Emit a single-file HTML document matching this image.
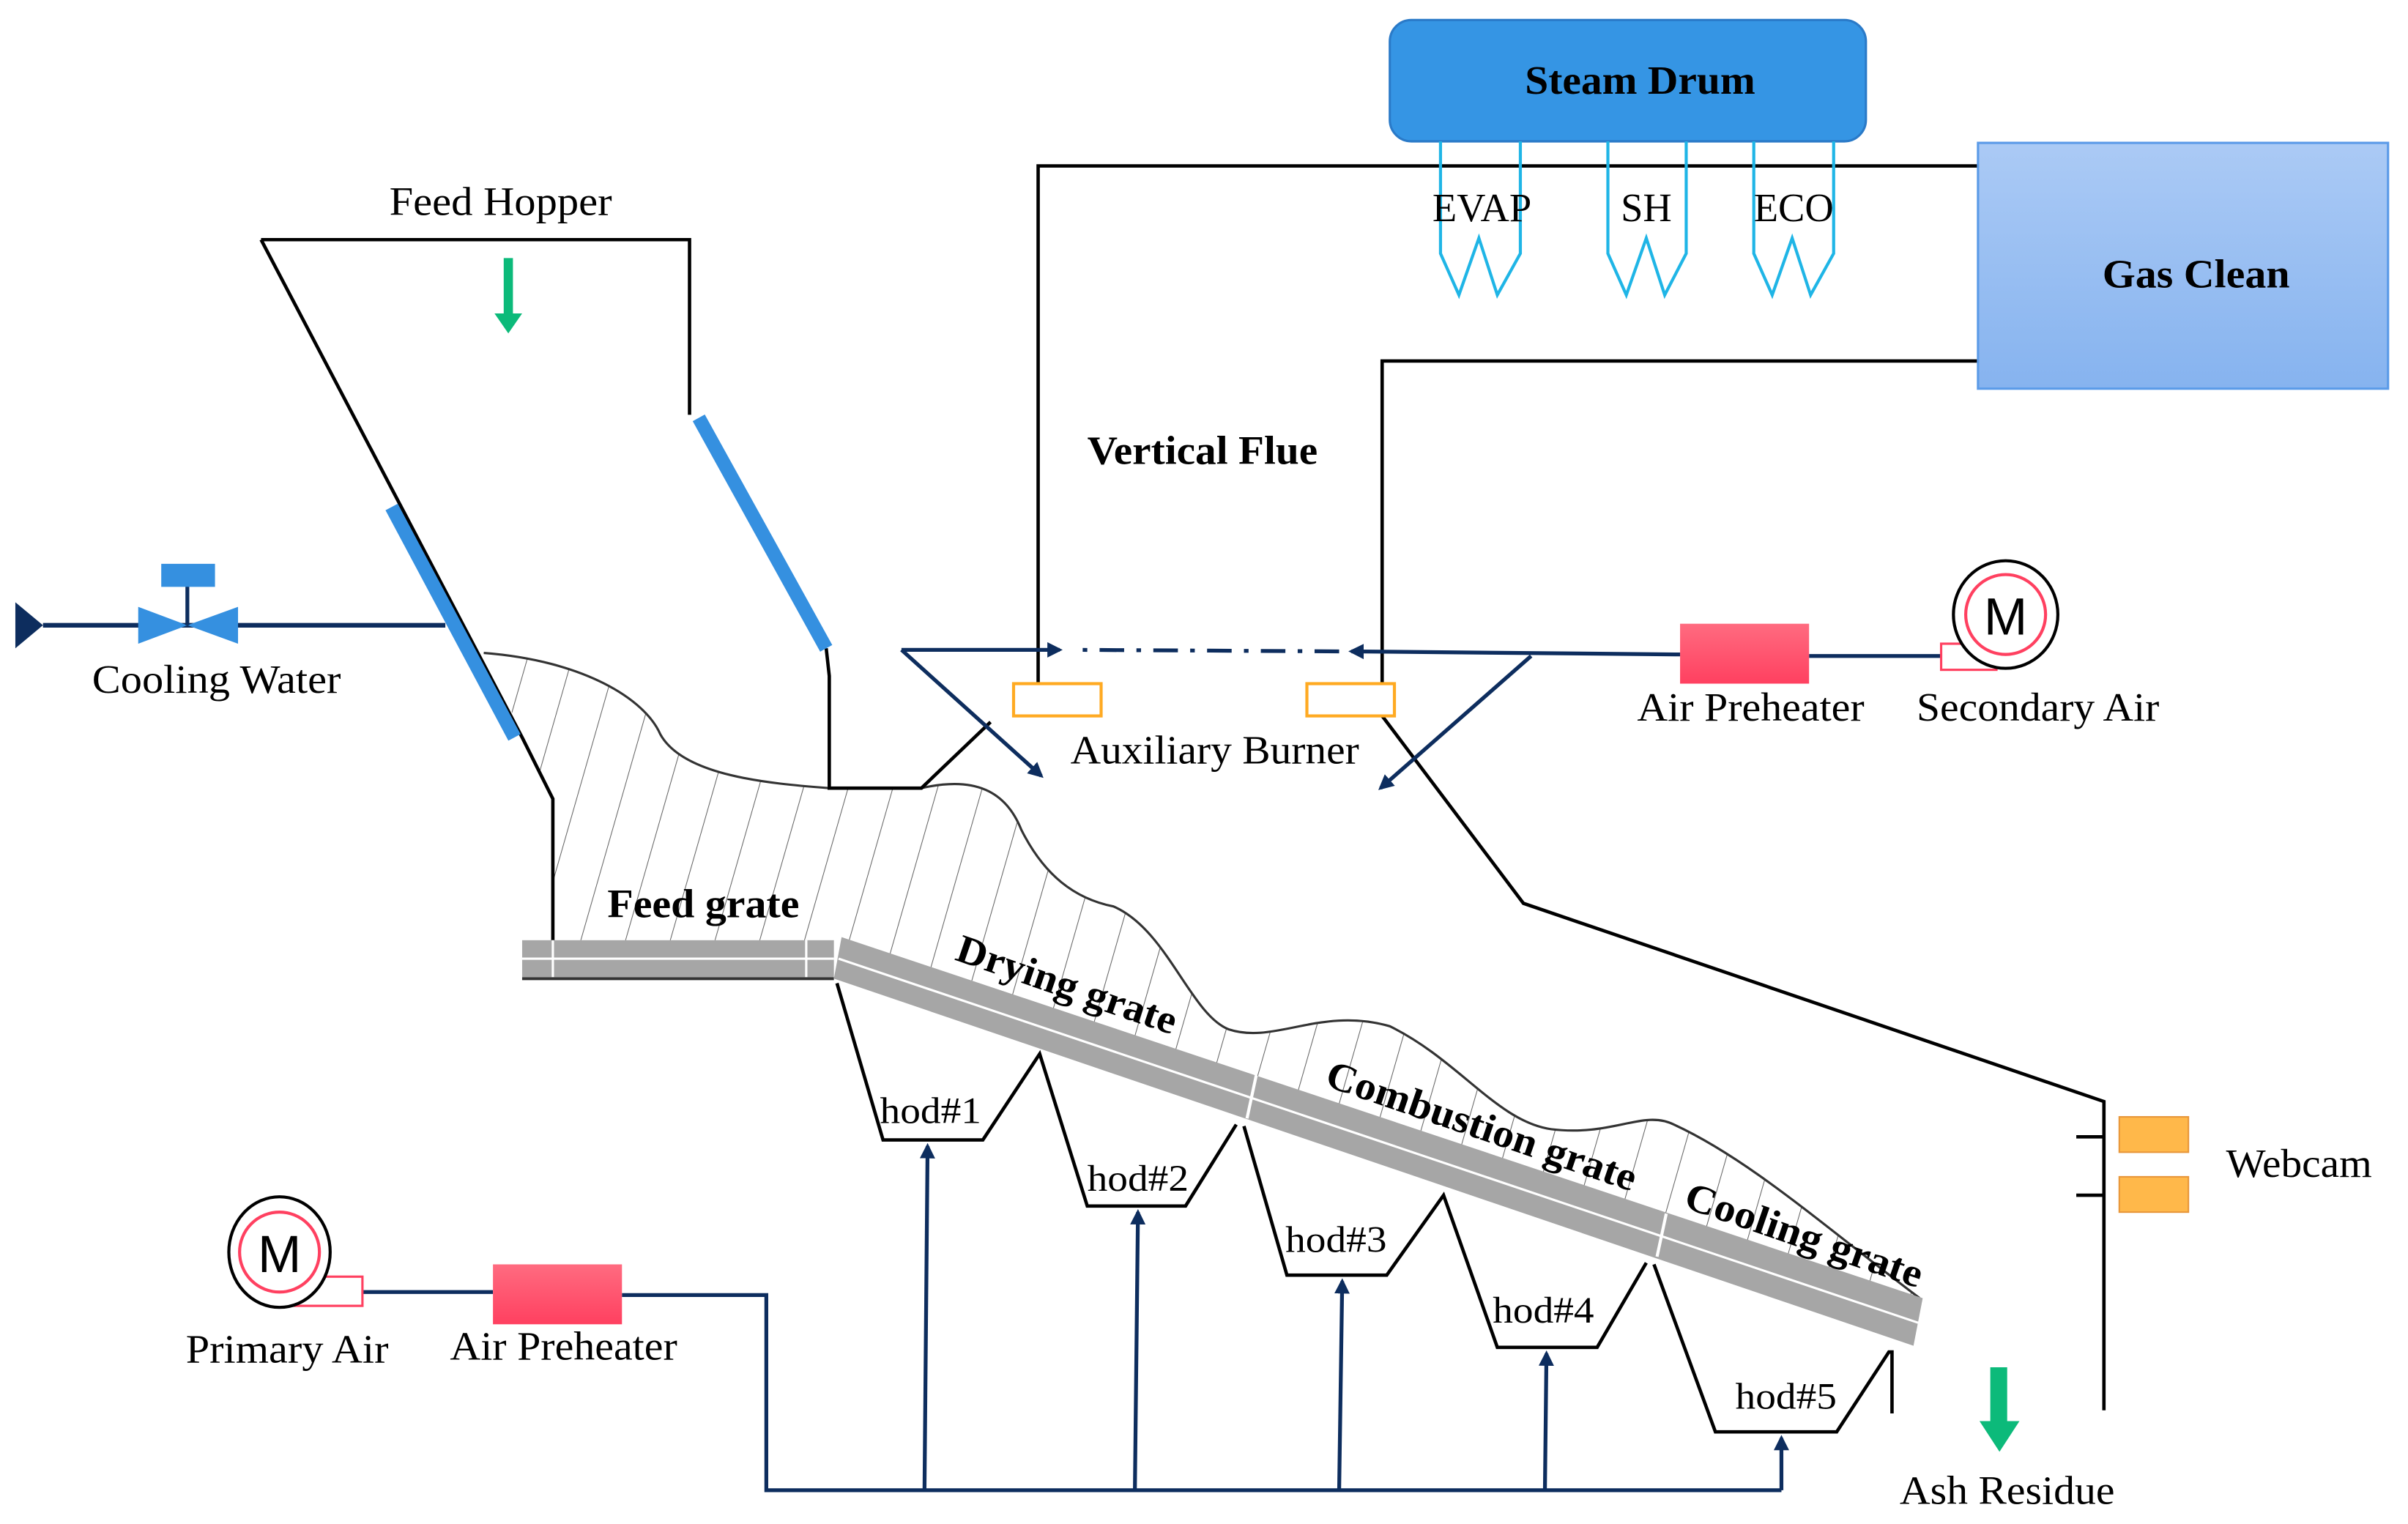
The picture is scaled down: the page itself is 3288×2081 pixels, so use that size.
<!DOCTYPE html>
<html><head><meta charset="utf-8"><style>
html,body{margin:0;padding:0;background:#fff;}
svg{display:block;}
text{font-family:"Liberation Serif",serif;fill:#000;}
.b{font-weight:bold;}
</style></head><body>
<svg width="3288" height="2081" viewBox="0 0 1568 992" preserveAspectRatio="none" xmlns="http://www.w3.org/2000/svg">
<defs>
<linearGradient id="gc" x1="0" y1="0" x2="0" y2="1"><stop offset="0" stop-color="#abcaf5"/><stop offset="1" stop-color="#86b3ef"/></linearGradient>
<linearGradient id="rd" x1="0" y1="0" x2="0" y2="1"><stop offset="0" stop-color="#ff6b80"/><stop offset="1" stop-color="#ff4060"/></linearGradient>
<pattern id="hatch" width="28" height="40" patternUnits="userSpaceOnUse" patternTransform="rotate(16)">
<line x1="0" y1="0" x2="0" y2="40" stroke="#666" stroke-width="1"/></pattern>
<marker id="ah" markerWidth="10" markerHeight="10" refX="8" refY="5" orient="auto" markerUnits="userSpaceOnUse"><path d="M0,0 L10,5 L0,10 Z" fill="#0d2d5e"/></marker>
</defs>

<path d="M315,425 C380,430 420,455 430,478 C445,505 500,510 540,513 L600,513 C635,505 655,515 665,540 C680,570 700,585 725,590 C760,605 775,660 800,670 C830,680 860,655 905,668 C950,690 975,730 1010,735 C1050,740 1070,722 1090,732 C1140,755 1190,800 1250,845 L543,612 L340,612 L360,612 L360,520 Z" fill="url(#hatch)" stroke="none"/>
<path d="M315,425 C380,430 420,455 430,478 C445,505 500,510 540,513 M600,513 C635,505 655,515 665,540 C680,570 700,585 725,590 C760,605 775,660 800,670 C830,680 860,655 905,668 C950,690 975,730 1010,735 C1050,740 1070,722 1090,732 C1140,755 1190,800 1250,845" fill="none" stroke="#333" stroke-width="1.5"/>

<g stroke="#000" stroke-width="2.2" fill="none">
<polyline points="170,156 449,156 449,270"/>
<polyline points="170,156 340,480 360,520 360,612"/>
<polyline points="538,422 540,440 540,513 600,513 645,470"/>
<polyline points="676,445 676,108 1288,108"/>
<polyline points="900,445 900,235 1288,235"/>
<polyline points="900,466 992,588 1370,717 1370,918"/>
<line x1="1352" y1="740" x2="1370" y2="740"/>
<line x1="1352" y1="778" x2="1370" y2="778"/>
<polyline points="545,640 575,742 640,742 677,686 708,785 772,785 805,732"/>
<polyline points="810,733 838,830 903,830 940,778 975,877 1040,877 1072,822"/>
<polyline points="1077,823 1117,932 1196,932 1230,880 1232,880 1232,920"/>
</g>
<line x1="340" y1="637" x2="543" y2="637" stroke="#333" stroke-width="2"/>

<line x1="255" y1="330" x2="335" y2="480" stroke="#3590e0" stroke-width="9"/>
<line x1="455" y1="272" x2="538" y2="422" stroke="#3590e0" stroke-width="9"/>
<path d="M328,168 h6 v36 h6 l-9,13 l-9,-13 h6 z" fill="#0cba7a"/>
<path d="M1296,890 h11 v35 h8 l-13,20 l-13,-20 h7 z" fill="#0cba7a"/>

<path d="M10,392 L28,407 L10,422 Z" fill="#0d2d5e"/>
<line x1="28" y1="407" x2="290" y2="407" stroke="#0d2d5e" stroke-width="3"/>
<path d="M90,395 L122,407 L90,419 Z M155,395 L122,407 L155,419 Z" fill="#3590e0"/>
<line x1="122" y1="381" x2="122" y2="407" stroke="#0d2d5e" stroke-width="2.5"/>
<rect x="105" y="367" width="35" height="15" fill="#3590e0"/>

<rect x="340" y="612" width="203" height="24" fill="#a6a6a6"/>
<line x1="340" y1="624" x2="543" y2="624" stroke="#fff" stroke-width="1.5"/>
<line x1="360" y1="612" x2="360" y2="636" stroke="#fff" stroke-width="1.5"/>
<line x1="525" y1="612" x2="525" y2="636" stroke="#fff" stroke-width="1.5"/>
<polygon points="548,610 1252,845 1246,876 543,637" fill="#a6a6a6"/>
<line x1="546" y1="624" x2="1249" y2="861" stroke="#fff" stroke-width="1.5"/>
<line x1="818" y1="700" x2="812" y2="728" stroke="#fff" stroke-width="2"/>
<line x1="1085" y1="790" x2="1079" y2="818" stroke="#fff" stroke-width="2"/>

<rect x="905" y="13" width="310" height="79" rx="14" fill="#3595e4" stroke="#2a7ac8" stroke-width="1.5"/>
<text x="1068" y="61" font-size="26" class="b" text-anchor="middle" textLength="150" lengthAdjust="spacingAndGlyphs">Steam Drum</text>
<g stroke="#1fb5e6" stroke-width="2" fill="none">
<polyline points="938,92 938,165 950,192 963,155 975,192 990,165 990,92"/>
<polyline points="1047,92 1047,165 1059,192 1072,155 1084,192 1098,165 1098,92"/>
<polyline points="1142,92 1142,165 1154,192 1167,155 1179,192 1194,165 1194,92"/>
</g>
<text x="965" y="144" font-size="26" text-anchor="middle">EVAP</text>
<text x="1072" y="144" font-size="26" text-anchor="middle">SH</text>
<text x="1168" y="144" font-size="26" text-anchor="middle">ECO</text>

<rect x="1288" y="93" width="267" height="160" fill="url(#gc)" stroke="#5b9be8" stroke-width="1.5"/>
<text x="1430" y="187" font-size="26" class="b" text-anchor="middle" textLength="122" lengthAdjust="spacingAndGlyphs">Gas Clean</text>

<g stroke="#0d2d5e" stroke-width="2.5" fill="none">
<line x1="1264" y1="427" x2="1178" y2="427"/>
<line x1="1094" y1="426" x2="880" y2="424" marker-end="url(#ah)"/>
<line x1="872" y1="424" x2="700" y2="423" stroke-dasharray="16,8,3,8"/>
<line x1="587" y1="423" x2="690" y2="423" marker-end="url(#ah)"/>
<line x1="587" y1="423" x2="678" y2="505" marker-end="url(#ah)"/>
<line x1="997" y1="427" x2="899" y2="513" marker-end="url(#ah)"/>
</g>
<rect x="1094" y="406" width="84" height="39" fill="url(#rd)"/>
<rect x="1264" y="419" width="36" height="17" fill="#fff" stroke="#ff4060" stroke-width="1.5"/>
<ellipse cx="1306" cy="400" rx="34" ry="35" fill="#fff" stroke="#000" stroke-width="2"/>
<circle cx="1306" cy="400" r="26" fill="#fff" stroke="#ff4060" stroke-width="2"/>
<text x="1306" y="413" font-size="34" text-anchor="middle" style="font-family:'Liberation Sans',sans-serif">M</text>
<text x="1140" y="469" font-size="26" text-anchor="middle" textLength="148" lengthAdjust="spacingAndGlyphs">Air Preheater</text>
<text x="1327" y="469" font-size="26" text-anchor="middle" textLength="158" lengthAdjust="spacingAndGlyphs">Secondary Air</text>

<rect x="660" y="445" width="57" height="21" fill="#fff" stroke="#ffaa22" stroke-width="2"/>
<rect x="851" y="445" width="57" height="21" fill="#fff" stroke="#ffaa22" stroke-width="2"/>
<text x="791" y="497" font-size="26" text-anchor="middle" textLength="188" lengthAdjust="spacingAndGlyphs">Auxiliary Burner</text>
<text x="783" y="302" font-size="26" class="b" text-anchor="middle" textLength="150" lengthAdjust="spacingAndGlyphs">Vertical Flue</text>

<rect x="1380" y="727" width="45" height="23" fill="#ffb84a" stroke="#e8963a"/>
<rect x="1380" y="766" width="45" height="23" fill="#ffb84a" stroke="#e8963a"/>
<text x="1497" y="766" font-size="26" text-anchor="middle" textLength="95" lengthAdjust="spacingAndGlyphs">Webcam</text>
<text x="1307" y="979" font-size="26" text-anchor="middle" textLength="140" lengthAdjust="spacingAndGlyphs">Ash Residue</text>

<g stroke="#0d2d5e" stroke-width="2.5" fill="none">
<line x1="236" y1="841" x2="321" y2="841"/>
<polyline points="405,843 499,843 499,970 1160,970"/>
<line x1="602" y1="970" x2="604" y2="746" marker-end="url(#ah)"/>
<line x1="739" y1="970" x2="741" y2="789" marker-end="url(#ah)"/>
<line x1="872" y1="970" x2="874" y2="834" marker-end="url(#ah)"/>
<line x1="1006" y1="970" x2="1007" y2="881" marker-end="url(#ah)"/>
<line x1="1160" y1="970" x2="1160" y2="936" marker-end="url(#ah)"/>
</g>
<rect x="321" y="823" width="84" height="39" fill="url(#rd)"/>
<rect x="192" y="831" width="44" height="19" fill="#fff" stroke="#ff4060" stroke-width="1.5"/>
<ellipse cx="182" cy="815" rx="33" ry="36" fill="#fff" stroke="#000" stroke-width="2"/>
<circle cx="182" cy="815" r="26" fill="#fff" stroke="#ff4060" stroke-width="2"/>
<text x="182" y="828" font-size="34" text-anchor="middle" style="font-family:'Liberation Sans',sans-serif">M</text>
<text x="187" y="887" font-size="26" text-anchor="middle" textLength="132" lengthAdjust="spacingAndGlyphs">Primary Air</text>
<text x="367" y="885" font-size="26" text-anchor="middle" textLength="148" lengthAdjust="spacingAndGlyphs">Air Preheater</text>

<text x="326" y="140" font-size="26" text-anchor="middle" textLength="145" lengthAdjust="spacingAndGlyphs">Feed Hopper</text>
<text x="141" y="451" font-size="26" text-anchor="middle" textLength="162" lengthAdjust="spacingAndGlyphs">Cooling Water</text>

<text x="458" y="597" font-size="26" class="b" text-anchor="middle" textLength="125" lengthAdjust="spacingAndGlyphs">Feed grate</text>
<text x="692" y="649" font-size="26" class="b" text-anchor="middle" transform="rotate(19 692 649)" textLength="150" lengthAdjust="spacingAndGlyphs">Drying grate</text>
<text x="962" y="741" font-size="26" class="b" text-anchor="middle" transform="rotate(19 962 741)" textLength="212" lengthAdjust="spacingAndGlyphs">Combustion grate</text>
<text x="1172" y="812" font-size="26" class="b" text-anchor="middle" transform="rotate(19 1172 812)" textLength="162" lengthAdjust="spacingAndGlyphs">Cooling grate</text>

<text x="606" y="731" font-size="24" text-anchor="middle" textLength="66" lengthAdjust="spacingAndGlyphs">hod#1</text>
<text x="741" y="775" font-size="24" text-anchor="middle" textLength="66" lengthAdjust="spacingAndGlyphs">hod#2</text>
<text x="870" y="815" font-size="24" text-anchor="middle" textLength="66" lengthAdjust="spacingAndGlyphs">hod#3</text>
<text x="1005" y="861" font-size="24" text-anchor="middle" textLength="66" lengthAdjust="spacingAndGlyphs">hod#4</text>
<text x="1163" y="917" font-size="24" text-anchor="middle" textLength="66" lengthAdjust="spacingAndGlyphs">hod#5</text>
</svg>
</body></html>
